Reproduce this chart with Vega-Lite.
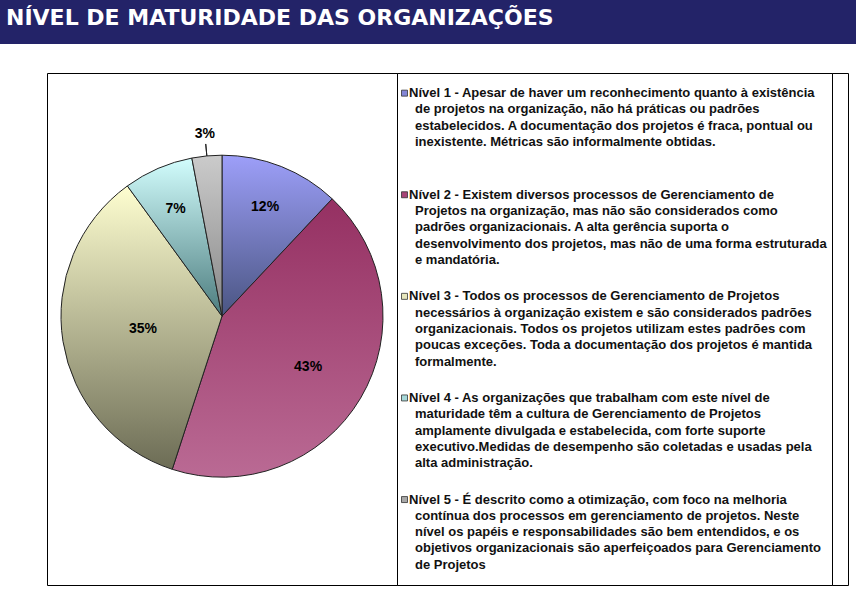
{
  "$schema": "https://vega.github.io/schema/vega-lite/v6.json",
  "padding": 0,
  "background": "white",
  "spacing": 29,
  "bounds": "flush",
  "config": {"view": {"stroke": null}},
  "datasets": {
    "pie": [
      {"nivel": "Nível 1", "ordem": 1, "valor": 0.12},
      {"nivel": "Nível 2", "ordem": 2, "valor": 0.43},
      {"nivel": "Nível 3", "ordem": 3, "valor": 0.35},
      {"nivel": "Nível 4", "ordem": 4, "valor": 0.07},
      {"nivel": "Nível 5", "ordem": 5, "valor": 0.03}
    ],
    "legenda": [
      {"nivel": 1, "linha": 0, "texto": "Nível 1 - Apesar de haver um reconhecimento quanto à existência"},
      {"nivel": 1, "linha": 1, "texto": "de projetos na organização, não há práticas ou padrões"},
      {"nivel": 1, "linha": 2, "texto": "estabelecidos. A documentação dos projetos é fraca, pontual ou"},
      {"nivel": 1, "linha": 3, "texto": "inexistente. Métricas são informalmente obtidas."},
      {"nivel": 2, "linha": 0, "texto": "Nível 2 - Existem diversos processos de Gerenciamento de"},
      {"nivel": 2, "linha": 1, "texto": "Projetos na organização, mas não são considerados como"},
      {"nivel": 2, "linha": 2, "texto": "padrões organizacionais. A alta gerência suporta o"},
      {"nivel": 2, "linha": 3, "texto": "desenvolvimento dos projetos, mas não de uma forma estruturada"},
      {"nivel": 2, "linha": 4, "texto": "e mandatória."},
      {"nivel": 3, "linha": 0, "texto": "Nível 3 - Todos os processos de Gerenciamento de Projetos"},
      {"nivel": 3, "linha": 1, "texto": "necessários à organização existem e são considerados padrões"},
      {"nivel": 3, "linha": 2, "texto": "organizacionais. Todos os projetos utilizam estes padrões com"},
      {"nivel": 3, "linha": 3, "texto": "poucas exceções. Toda a documentação dos projetos é mantida"},
      {"nivel": 3, "linha": 4, "texto": "formalmente."},
      {"nivel": 4, "linha": 0, "texto": "Nível 4 - As organizações que trabalham com este nível de"},
      {"nivel": 4, "linha": 1, "texto": "maturidade têm a cultura de Gerenciamento de Projetos"},
      {"nivel": 4, "linha": 2, "texto": "amplamente divulgada e estabelecida, com forte suporte"},
      {"nivel": 4, "linha": 3, "texto": "executivo.Medidas de desempenho são coletadas e usadas pela"},
      {"nivel": 4, "linha": 4, "texto": "alta administração."},
      {"nivel": 5, "linha": 0, "texto": "Nível 5 - É descrito como a otimização, com foco na melhoria"},
      {"nivel": 5, "linha": 1, "texto": "contínua dos processos em gerenciamento de projetos. Neste"},
      {"nivel": 5, "linha": 2, "texto": "nível os papéis e responsabilidades são bem entendidos, e os"},
      {"nivel": 5, "linha": 3, "texto": "objetivos organizacionais são aperfeiçoados para Gerenciamento"},
      {"nivel": 5, "linha": 4, "texto": "de Projetos"}
    ]
  },
  "vconcat": [
    {
      "width": 856,
      "height": 44,
      "view": {"fill": "#232368", "stroke": null},
      "data": {"values": [{}]},
      "mark": {"type": "rect", "color": "#232368"},
      "title": {
        "text": "NÍVEL DE MATURIDADE DAS ORGANIZAÇÕES",
        "anchor": "start",
        "orient": "top",
        "frame": "group",
        "offset": -30,
        "dx": 6,
        "color": "white",
        "font": "DejaVu Sans",
        "fontWeight": "bold",
        "fontSize": 22
      }
    },
    {
      "spacing": 0,
      "bounds": "flush",
      "hconcat": [
        {
          "width": 47,
          "height": 512,
          "view": {"stroke": null},
          "data": {"values": []},
          "mark": "point"
        },
        {
          "width": 350,
          "height": 512,
          "view": {"stroke": "#000000", "strokeWidth": 1},
          "data": {"name": "pie"},
          "transform": [
            {"stack": "valor", "groupby": [], "sort": [{"field": "ordem", "order": "ascending"}], "as": ["ini", "fim"]}
          ],
          "encoding": {
            "y": {"datum": 0.525, "type": "quantitative", "scale": {"domain": [0, 1]}, "axis": null}
          },
          "layer": [
            {
              "transform": [{"filter": "datum.ordem == 1"}],
              "mark": {"type": "arc", "outerRadius": 161, "stroke": "#222222", "strokeWidth": 1,
                "fill": {"gradient": "linear", "x1": 0, "y1": 0, "x2": 0, "y2": 1, "stops": [{"offset": 0, "color": "#9d9ff9"}, {"offset": 1, "color": "#4a5582"}]}},
              "encoding": {"theta": {"field": "ini", "type": "quantitative", "scale": {"domain": [0, 1]}}, "theta2": {"field": "fim"}}
            },
            {
              "transform": [{"filter": "datum.ordem == 2"}],
              "mark": {"type": "arc", "outerRadius": 161, "stroke": "#222222", "strokeWidth": 1,
                "fill": {"gradient": "linear", "x1": 0, "y1": 0, "x2": 0, "y2": 1, "stops": [{"offset": 0, "color": "#953062"}, {"offset": 1, "color": "#ba6a94"}]}},
              "encoding": {"theta": {"field": "ini", "type": "quantitative", "scale": {"domain": [0, 1]}}, "theta2": {"field": "fim"}}
            },
            {
              "transform": [{"filter": "datum.ordem == 3"}],
              "mark": {"type": "arc", "outerRadius": 161, "stroke": "#222222", "strokeWidth": 1,
                "fill": {"gradient": "linear", "x1": 0, "y1": 0, "x2": 0, "y2": 1, "stops": [{"offset": 0, "color": "#fefed0"}, {"offset": 1, "color": "#6c6c55"}]}},
              "encoding": {"theta": {"field": "ini", "type": "quantitative", "scale": {"domain": [0, 1]}}, "theta2": {"field": "fim"}}
            },
            {
              "transform": [{"filter": "datum.ordem == 4"}],
              "mark": {"type": "arc", "outerRadius": 161, "stroke": "#222222", "strokeWidth": 1,
                "fill": {"gradient": "linear", "x1": 0, "y1": 0, "x2": 0, "y2": 1, "stops": [{"offset": 0, "color": "#d2fdfd"}, {"offset": 1, "color": "#4c7c7e"}]}},
              "encoding": {"theta": {"field": "ini", "type": "quantitative", "scale": {"domain": [0, 1]}}, "theta2": {"field": "fim"}}
            },
            {
              "transform": [{"filter": "datum.ordem == 5"}],
              "mark": {"type": "arc", "outerRadius": 161, "stroke": "#222222", "strokeWidth": 1,
                "fill": {"gradient": "linear", "x1": 0, "y1": 0, "x2": 0, "y2": 1, "stops": [{"offset": 0, "color": "#cbcbcb"}, {"offset": 1, "color": "#878787"}]}},
              "encoding": {"theta": {"field": "ini", "type": "quantitative", "scale": {"domain": [0, 1]}}, "theta2": {"field": "fim"}}
            },
            {
              "transform": [{"filter": "datum.ordem == 5"}],
              "mark": {"type": "arc", "innerRadius": 161, "outerRadius": 173, "padAngle": 1, "stroke": "#222222", "strokeWidth": 1, "fill": null, "fillOpacity": 0},
              "encoding": {"theta": {"field": "ini", "type": "quantitative", "scale": {"domain": [0, 1]}}, "theta2": {"field": "fim"}}
            },
            {
              "mark": {"type": "text", "radius": 117, "font": "Liberation Sans", "fontWeight": "bold", "fontSize": 14, "color": "#000000", "baseline": "middle", "align": "center"},
              "encoding": {
                "theta": {"field": "valor", "type": "quantitative", "stack": true, "scale": {"domain": [0, 1]}},
                "order": {"field": "ordem", "type": "quantitative"},
                "text": {"field": "valor", "type": "quantitative", "format": ".0%", "condition": {"test": "datum.ordem != 1 && datum.ordem != 4", "value": ""}}
              }
            },
            {
              "mark": {"type": "text", "radius": 100, "font": "Liberation Sans", "fontWeight": "bold", "fontSize": 14, "color": "#000000", "baseline": "middle", "align": "center"},
              "encoding": {
                "theta": {"field": "valor", "type": "quantitative", "stack": true, "scale": {"domain": [0, 1]}},
                "order": {"field": "ordem", "type": "quantitative"},
                "text": {"field": "valor", "type": "quantitative", "format": ".0%", "condition": {"test": "datum.ordem != 2", "value": ""}}
              }
            },
            {
              "mark": {"type": "text", "radius": 80, "font": "Liberation Sans", "fontWeight": "bold", "fontSize": 14, "color": "#000000", "baseline": "middle", "align": "center"},
              "encoding": {
                "theta": {"field": "valor", "type": "quantitative", "stack": true, "scale": {"domain": [0, 1]}},
                "order": {"field": "ordem", "type": "quantitative"},
                "text": {"field": "valor", "type": "quantitative", "format": ".0%", "condition": {"test": "datum.ordem != 3", "value": ""}}
              }
            },
            {
              "mark": {"type": "text", "radius": 183, "font": "Liberation Sans", "fontWeight": "bold", "fontSize": 14, "color": "#000000", "baseline": "middle", "align": "center"},
              "encoding": {
                "theta": {"field": "valor", "type": "quantitative", "stack": true, "scale": {"domain": [0, 1]}},
                "order": {"field": "ordem", "type": "quantitative"},
                "text": {"field": "valor", "type": "quantitative", "format": ".0%", "condition": {"test": "datum.ordem != 5", "value": ""}}
              }
            }
          ]
        },
        {
          "width": 435,
          "height": 512,
          "view": {"stroke": "#000000", "strokeWidth": 1},
          "data": {"name": "legenda"},
          "encoding": {
            "y": {"field": "nivel", "type": "ordinal", "axis": null, "scale": {"type": "band", "range": [12, 520], "paddingInner": 0, "paddingOuter": 0}},
            "yOffset": {"field": "linha", "type": "ordinal", "scale": {"type": "band", "range": [0, 81.5], "paddingInner": 0, "paddingOuter": 0}},
            "x": {"field": "linha", "type": "quantitative", "axis": null, "scale": {"type": "linear", "domain": [0, 1], "range": [12, 18], "clamp": true}}
          },
          "layer": [
            {
              "mark": {"type": "text", "align": "left", "baseline": "middle", "font": "Liberation Sans", "fontWeight": "bold", "fontSize": 13, "color": "#111111"},
              "encoding": {"text": {"field": "texto", "type": "nominal"}}
            },
            {
              "transform": [{"filter": "datum.linha == 0"}],
              "mark": {"type": "square", "size": 36, "xOffset": -4.5, "stroke": "#333333", "strokeWidth": 0.8, "opacity": 1, "filled": true},
              "encoding": {
                "color": {"field": "nivel", "type": "ordinal", "legend": null, "scale": {"domain": [1, 2, 3, 4, 5], "range": ["#8486d6", "#a84476", "#e6e6bc", "#a6d8d8", "#a8a8a8"]}}
              }
            }
          ]
        },
        {
          "width": 16,
          "height": 512,
          "view": {"stroke": "#000000", "strokeWidth": 1},
          "data": {"values": []},
          "mark": "point"
        }
      ]
    }
  ]
}
